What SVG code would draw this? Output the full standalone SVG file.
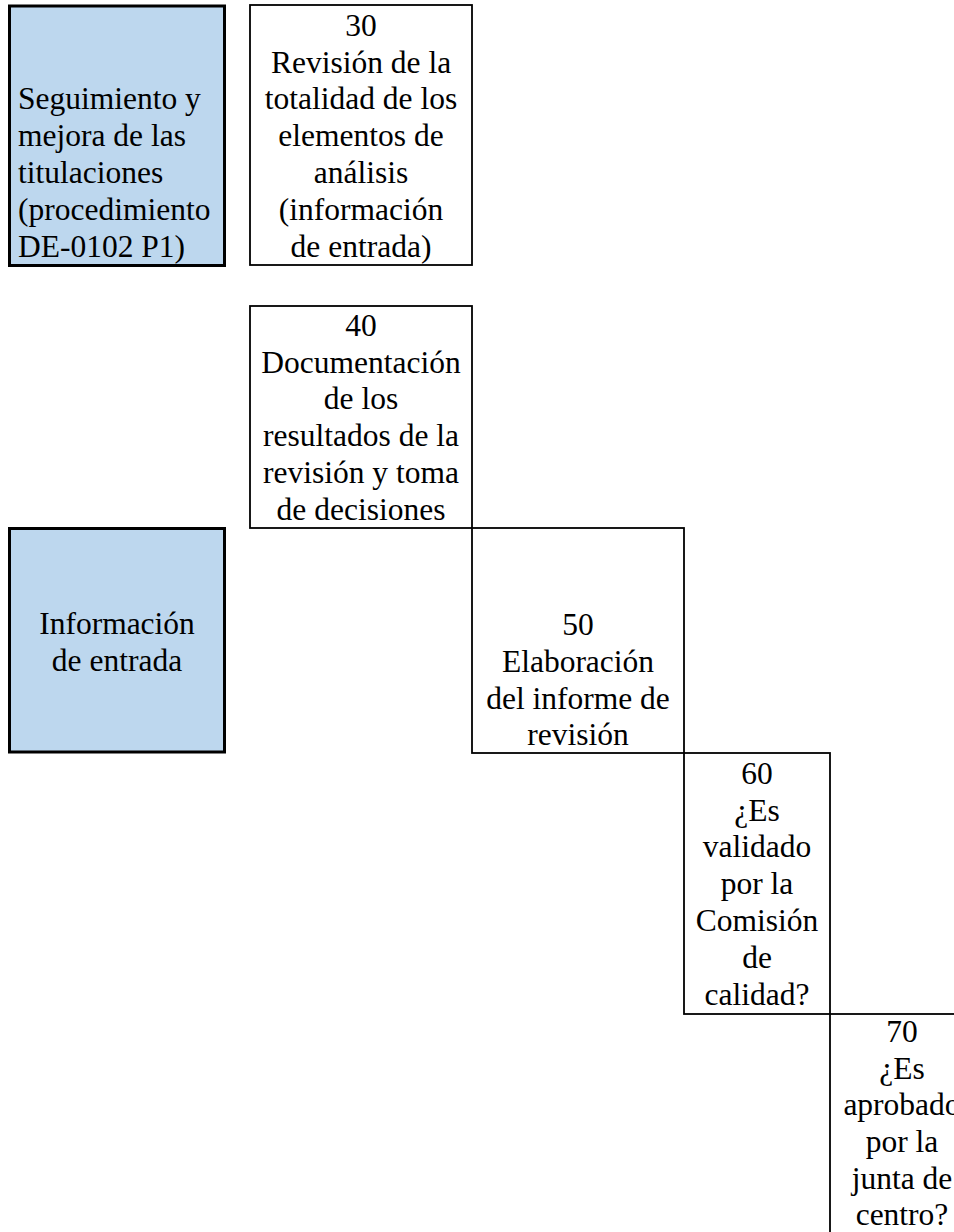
<svg xmlns="http://www.w3.org/2000/svg" width="954" height="1232" viewBox="0 0 954 1232">
<style>
.blue{fill:#BDD7EE;stroke:#000;stroke-width:3}
.box{fill:#fff;stroke:#000;stroke-width:1.8}
text{font-family:"Liberation Serif","Times New Roman",serif;font-size:31.5px;fill:#000}
.c{text-anchor:middle}
</style>
<rect width="954" height="1232" fill="#fff"/>
<g id="seguimiento">
<rect class="blue" x="9.5" y="6" width="215" height="259.5"/>
<text x="18" y="109">Seguimiento y</text>
<text x="18" y="146">mejora de las</text>
<text x="18" y="183">titulaciones</text>
<text x="18" y="220">(procedimiento</text>
<text x="18" y="256.5">DE-0102 P1)</text>
</g>
<g id="n30">
<rect class="box" x="250" y="5" width="222" height="260"/>
<text class="c" x="361" y="35.5">30</text>
<text class="c" x="361" y="72.5">Revisión de la</text>
<text class="c" x="361" y="109">totalidad de los</text>
<text class="c" x="361" y="146">elementos de</text>
<text class="c" x="361" y="183">análisis</text>
<text class="c" x="361" y="220">(información</text>
<text class="c" x="361" y="256.5">de entrada)</text>
</g>
<g id="n40">
<rect class="box" x="250" y="306" width="222" height="222"/>
<text class="c" x="361" y="335.5">40</text>
<text class="c" x="361" y="372.5">Documentación</text>
<text class="c" x="361" y="409">de los</text>
<text class="c" x="361" y="446">resultados de la</text>
<text class="c" x="361" y="483">revisión y toma</text>
<text class="c" x="361" y="520">de decisiones</text>
</g>
<g id="informacion">
<rect class="blue" x="9.5" y="528.5" width="215" height="223.5"/>
<text class="c" x="117" y="634">Información</text>
<text class="c" x="117" y="671">de entrada</text>
</g>
<g id="n50">
<rect class="box" x="472" y="528" width="212" height="225"/>
<text class="c" x="578" y="635">50</text>
<text class="c" x="578" y="672">Elaboración</text>
<text class="c" x="578" y="708.5">del informe de</text>
<text class="c" x="578" y="745">revisión</text>
</g>
<g id="n60">
<rect class="box" x="684" y="753" width="146" height="261"/>
<text class="c" x="757" y="783.5">60</text>
<text class="c" x="757" y="820.5">¿Es</text>
<text class="c" x="757" y="857">validado</text>
<text class="c" x="757" y="894">por la</text>
<text class="c" x="757" y="931">Comisión</text>
<text class="c" x="757" y="968">de</text>
<text class="c" x="757" y="1005">calidad?</text>
</g>
<g id="n70">
<rect class="box" x="830" y="1014" width="144" height="240"/>
<text class="c" x="902" y="1042">70</text>
<text class="c" x="902" y="1078.5">¿Es</text>
<text class="c" x="902" y="1115">aprobado</text>
<text class="c" x="902" y="1152">por la</text>
<text class="c" x="902" y="1188.5">junta de</text>
<text class="c" x="902" y="1225">centro?</text>
</g>
<g id="connectors"></g>
</svg>
